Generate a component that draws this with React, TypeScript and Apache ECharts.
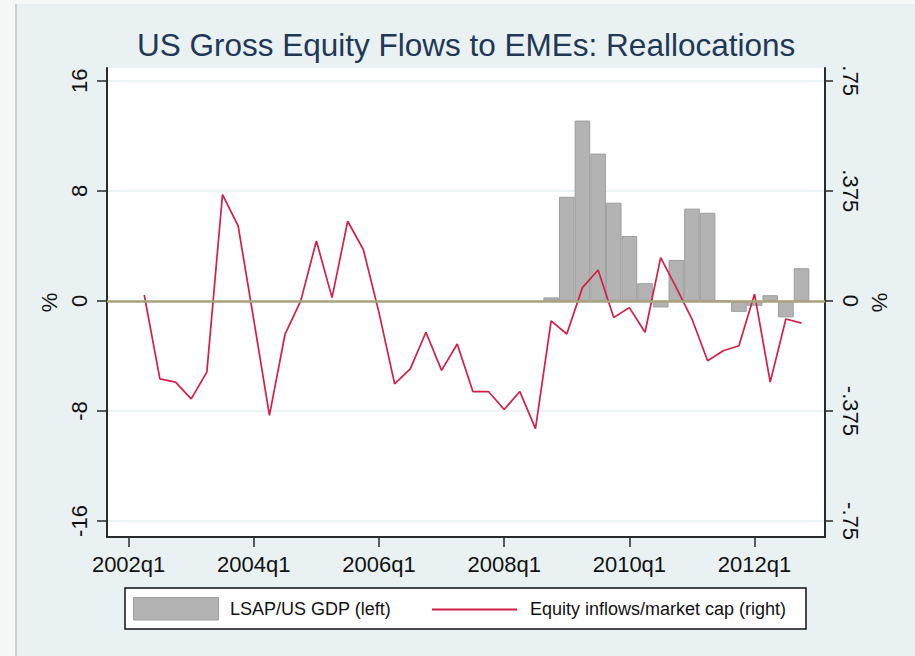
import React, { useEffect, useRef } from "react";
import * as echarts from "echarts";

// ---- data ----
const lineQuarters = [
  "2002q2", "2002q3", "2002q4",
  "2003q1", "2003q2", "2003q3", "2003q4",
  "2004q1", "2004q2", "2004q3", "2004q4",
  "2005q1", "2005q2", "2005q3", "2005q4",
  "2006q1", "2006q2", "2006q3", "2006q4",
  "2007q1", "2007q2", "2007q3", "2007q4",
  "2008q1", "2008q2", "2008q3", "2008q4",
  "2009q1", "2009q2", "2009q3", "2009q4",
  "2010q1", "2010q2", "2010q3", "2010q4",
  "2011q1", "2011q2", "2011q3", "2011q4",
  "2012q1", "2012q2", "2012q3", "2012q4",
];
const equityInflows = [
  0.02, -0.266, -0.277,
  -0.334, -0.243, 0.362, 0.255,
  -0.065, -0.39, -0.113, 0.0,
  0.204, 0.011, 0.271, 0.175,
  -0.04, -0.283, -0.232, -0.107,
  -0.237, -0.147, -0.309, -0.309,
  -0.37, -0.309, -0.435, -0.068,
  -0.113, 0.045, 0.105, -0.057,
  -0.023, -0.107, 0.147, 0.045,
  -0.062, -0.204, -0.17, -0.153,
  0.023, -0.277, -0.062, -0.076,
];
const barQuarters = [
  "2008q4",
  "2009q1", "2009q2", "2009q3", "2009q4",
  "2010q1", "2010q2", "2010q3", "2010q4",
  "2011q1", "2011q2", "2011q3", "2011q4",
  "2012q1", "2012q2", "2012q3", "2012q4",
];
const lsapGdp = [
  0.25,
  7.56, 13.1, 10.7, 7.13,
  4.71, 1.28, -0.48, 2.97,
  6.7, 6.4, 0, -0.8,
  -0.36, 0.41, -1.2, 2.37,
];
const xTickLabels = ["2002q1", "2004q1", "2006q1", "2008q1", "2010q1", "2012q1"];
const leftTicks = [-16, -8, 0, 8, 16];
const rightTicks = [-0.75, -0.375, 0, 0.375, 0.75];

const FONT = "'Liberation Sans', Arial, sans-serif";

function qIndex(q: string): number {
  const [y, n] = q.split("q");
  return (Number(y) - 2002) * 4 + Number(n) - 1;
}

function fmtRight(v: number): string {
  if (v === 0) return "0";
  const s = String(Math.abs(v)).replace(/^0/, "");
  return (v < 0 ? "-" : "") + s;
}

export default function App() {
  const ref = useRef<HTMLDivElement>(null);

  useEffect(() => {
    if (!ref.current) return;
    const chart = echarts.init(ref.current, undefined, { renderer: "svg" });
    const xTickValues = xTickLabels.map(qIndex);
    const axisColor = "#2a2a2a";
    const labelColor = "#111111";

    const option: any = {
      animation: false,
      backgroundColor: "#e9f1f3",
      title: {
        text: "US Gross Equity Flows to EMEs: Reallocations",
        left: 137,
        top: 29,
        padding: 0,
        textStyle: {
          fontFamily: FONT,
          fontSize: 31.5,
          fontWeight: "normal",
          color: "#1f3856",
        },
      },
      grid: {
        left: 107,
        right: 90,
        top: 68,
        bottom: 119,
        show: true,
        backgroundColor: "#ffffff",
        borderWidth: 0,
      },
      xAxis: {
        type: "value",
        min: -1.38,
        max: 44.5,
        axisLine: { show: true, onZero: false, lineStyle: { color: axisColor, width: 2 } },
        axisTick: {
          show: true,
          length: 10,
          customValues: xTickValues,
          lineStyle: { color: axisColor, width: 1.5 },
        },
        axisLabel: {
          customValues: xTickValues,
          formatter: (v: number) => xTickLabels[xTickValues.indexOf(v)] ?? "",
          margin: 16,
          fontSize: 22,
          fontFamily: FONT,
          color: labelColor,
        },
        splitLine: { show: false },
      },
      yAxis: [
        {
          type: "value",
          position: "left",
          min: -17.16,
          max: 16.92,
          name: "%",
          nameLocation: "middle",
          nameGap: 40,
          nameRotate: 90,
          nameTextStyle: { fontFamily: FONT, fontSize: 22, color: labelColor },
          axisLine: { show: true, onZero: false, lineStyle: { color: axisColor, width: 2 } },
          axisTick: {
            show: true,
            length: 10,
            customValues: leftTicks,
            lineStyle: { color: axisColor, width: 1.5 },
          },
          axisLabel: {
            customValues: leftTicks,
            rotate: 90,
            margin: 17,
            formatter: (v: number) => String(v),
            fontSize: 22,
            fontFamily: FONT,
            color: labelColor,
          },
          splitLine: { show: true, lineStyle: { color: "#e6eff1", width: 1.5 } },
        },
        {
          type: "value",
          position: "right",
          min: -0.8044,
          max: 0.7931,
          name: "%",
          nameLocation: "middle",
          nameGap: 33,
          nameRotate: -90,
          nameTextStyle: { fontFamily: FONT, fontSize: 22, color: labelColor },
          axisLine: { show: true, onZero: false, lineStyle: { color: axisColor, width: 2 } },
          axisTick: {
            show: true,
            length: 8,
            customValues: rightTicks,
            lineStyle: { color: axisColor, width: 1.5 },
          },
          axisLabel: {
            customValues: rightTicks,
            rotate: -90,
            margin: 14,
            formatter: (v: number) => fmtRight(v),
            fontSize: 22,
            fontFamily: FONT,
            color: labelColor,
          },
          splitLine: { show: false },
        },
      ],
      series: [
        {
          name: "LSAP/US GDP (left)",
          type: "bar",
          xAxisIndex: 0,
          yAxisIndex: 0,
          barWidth: 15.6,
          data: barQuarters.map((q, i) => [qIndex(q), lsapGdp[i]]),
          itemStyle: { color: "#b3b3b3", borderColor: "#9d9d9d", borderWidth: 1 },
          z: 2,
          markLine: {
            silent: true,
            symbol: ["none", "none"],
            label: { show: false },
            lineStyle: { color: "#a8a37c", width: 2.5, type: "solid" },
            data: [{ yAxis: 0 }],
          },
        },
        {
          name: "Equity inflows/market cap (right)",
          type: "line",
          xAxisIndex: 0,
          yAxisIndex: 1,
          symbol: "none",
          showSymbol: false,
          data: lineQuarters.map((q, i) => [qIndex(q), equityInflows[i]]),
          lineStyle: { color: "#d21f49", width: 1.7 },
          itemStyle: { color: "#d21f49" },
          z: 4,
        },
      ],
      graphic: [
        { type: "rect", shape: { x: 0, y: 0, width: 15, height: 656 }, style: { fill: "#f6f8f8" }, silent: true },
        { type: "line", shape: { x1: 16, y1: 0, x2: 16, y2: 656 }, style: { stroke: "#c9d0d3", lineWidth: 2 }, silent: true },
        { type: "rect", shape: { x: 0, y: 0, width: 915, height: 4 }, style: { fill: "#f6f8f8" }, silent: true },
        {
          type: "rect",
          shape: { x: 125, y: 588, width: 681, height: 41 },
          style: { fill: "#ffffff", stroke: "#111111", lineWidth: 1.5 },
          silent: true,
        },
        {
          type: "rect",
          shape: { x: 133.5, y: 597.5, width: 85, height: 22.5 },
          style: { fill: "#b3b3b3", stroke: "#a0a0a0", lineWidth: 1 },
          silent: true,
        },
        {
          type: "text",
          x: 230,
          y: 609,
          style: {
            text: "LSAP/US GDP (left)",
            fontFamily: FONT,
            fontSize: 18,
            fill: "#111111",
            verticalAlign: "middle",
            align: "left",
          },
          silent: true,
        },
        {
          type: "line",
          shape: { x1: 432, y1: 609.5, x2: 517, y2: 609.5 },
          style: { stroke: "#d21f49", lineWidth: 2 },
          silent: true,
        },
        {
          type: "text",
          x: 530,
          y: 609,
          style: {
            text: "Equity inflows/market cap (right)",
            fontFamily: FONT,
            fontSize: 18,
            fill: "#111111",
            verticalAlign: "middle",
            align: "left",
          },
          silent: true,
        },
      ],
    };

    chart.setOption(option);
    return () => {
      chart.dispose();
    };
  }, []);

  return (
    <div
      ref={ref}
      style={{ position: "fixed", left: 0, top: 0, width: 915, height: 656 }}
    />
  );
}
